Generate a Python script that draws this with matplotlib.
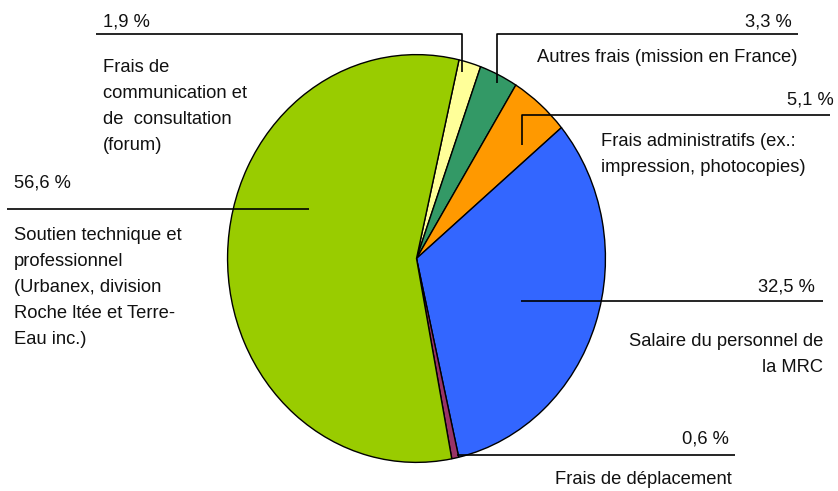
import matplotlib
matplotlib.use("Agg")
import matplotlib.pyplot as plt

# ---- data ----
categories = [
    "Frais de\ncommunication et\nde  consultation\n(forum)",
    "Autres frais (mission en France)",
    "Frais administratifs (ex.:\nimpression, photocopies)",
    "Salaire du personnel de\nla MRC",
    "Frais de déplacement",
    "Soutien technique et\nprofessionnel\n(Urbanex, division\nRoche ltée et Terre-\nEau inc.)",
]
values = [1.9, 3.3, 5.1, 32.5, 0.6, 56.6]
pct_labels = ["1,9 %", "3,3 %", "5,1 %", "32,5 %", "0,6 %", "56,6 %"]
colors = ["#FFFF99", "#339966", "#FF9900", "#3366FF", "#993366", "#99CC00"]

W, H = 838, 491
fig = plt.figure(figsize=(W / 100, H / 100), dpi=100)
fig.patch.set_facecolor("white")

# pie axes (ellipse box in pixels)
px0, px1, py0, py1 = 227, 606, 54, 463
axp = fig.add_axes([px0 / W, 1 - py1 / H, (px1 - px0) / W, (py1 - py0) / H])
axp.pie(values, colors=colors, startangle=77, counterclock=False, radius=1,
        wedgeprops=dict(edgecolor="black", linewidth=1.0))
axp.set_aspect("auto")
axp.set_xlim(-1.003, 1.003)
axp.set_ylim(-1.003, 1.003)
axp.axis("off")

# overlay axes in pixel coordinates
ax = fig.add_axes([0, 0, 1, 1], zorder=5)
ax.set_xlim(0, W)
ax.set_ylim(H, 0)
ax.axis("off")
ax.patch.set_alpha(0)

font = dict(family=["Liberation Sans", "DejaVu Sans"], fontsize=13.2, color="#111111")
lw = 1.2

# leader lines: (x points, y points)
leaders = [
    ([96, 462, 462], [34, 34, 72]),
    ([798, 497, 497], [34, 34, 83]),
    ([830, 522, 522], [115, 115, 145]),
    ([823, 521], [301, 301]),
    ([735, 457], [455, 455]),
    ([7, 309], [209, 209]),
]
for xs, ys in leaders:
    ax.plot(xs, ys, color="black", lw=lw, solid_capstyle="butt")

# percentage labels: (x, y, ha)
pct_pos = [(103, 22, "left"), (792, 22, "right"), (834, 100, "right"),
           (815, 287, "right"), (729, 439, "right"), (14, 183, "left")]
for lab, (x, y, ha) in zip(pct_labels, pct_pos):
    ax.text(x, y, lab, ha=ha, va="center", **font)

# category labels: (x, y_top_line_center, ha)
cat_pos = [(103, 67, "left"), (797, 57, "right"), (601, 142, "left"),
           (823, 342, "right"), (732, 479, "right"), (14, 235, "left")]
for lab, (x, y, ha) in zip(categories, cat_pos):
    for i, line in enumerate(lab.split("\n")):
        ax.text(x, y + i * 26, line, ha=ha, va="center", **font)

fig.savefig("out.png", dpi=100, facecolor="white")
